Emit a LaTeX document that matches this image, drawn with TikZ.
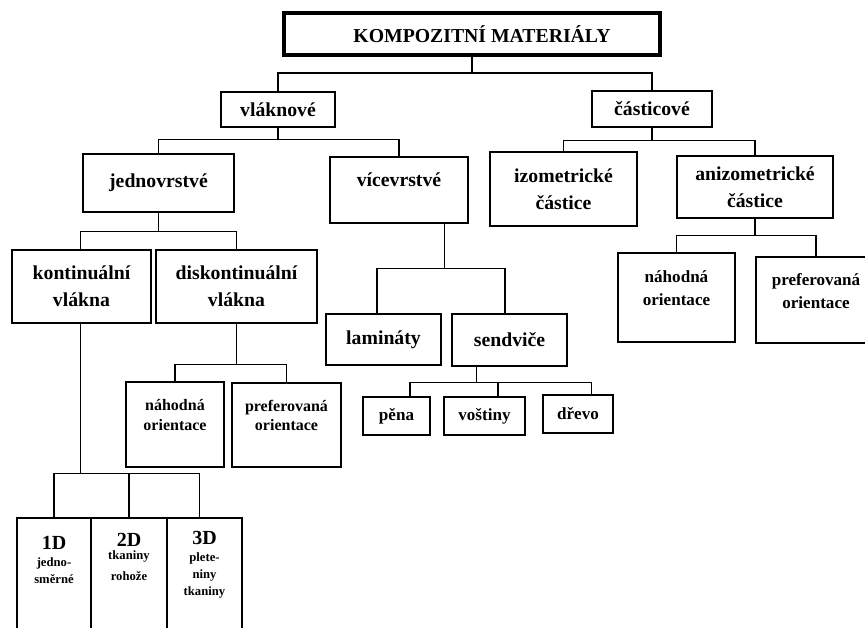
\documentclass[tikz,border=0pt]{standalone}
\usepackage{fontspec}
\setmainfont{Liberation Serif}

% text of the 1D/2D/3D boxes sits at the top
\newcommand{\dimtext}[3]{\parbox[c][84pt][t]{#1}{\centering\vspace*{#2}#3}}

\tikzset{
  box/.style={draw, line width=1pt, inner sep=0pt, align=center,
    font=\bfseries\fontsize{14.8}{20.5}\selectfont},
  orientbox/.style={box, font=\bfseries\fontsize{12.8}{17}\selectfont},
  smallbox/.style={box, font=\bfseries\fontsize{12}{14.5}\selectfont},
  dimbox/.style={draw, line width=1pt, inner sep=0pt, font=\bfseries},
  link/.style={line width=1pt},
}

\begin{document}
\begin{tikzpicture}[x=0.75pt, y=-0.75pt]
    \path[use as bounding box, fill=white] (0,0) rectangle (865,628);

    % top level
    \node[box, line width=2.8pt, minimum width=282pt, minimum height=31.5pt] (root) at (472,34)
        {\hspace*{15pt}KOMPOZITNÍ MATERIÁLY};

    \node[box, minimum width=85.5pt, minimum height=26.25pt] (vlaknove) at (278,109.5) {vláknové};
    \node[box, minimum width=90pt, minimum height=27pt] (casticove) at (652,109) {částicové};

    % fibre composites
    \node[box, minimum width=113.25pt, minimum height=43.5pt] (jednovrstve) at (158.5,183) {jednovrstvé};
    \node[box, minimum width=103.5pt, minimum height=49.5pt] (vicevrstve) at (399,190) {vícevrstvé\\[-5.5pt]};

    \node[box, minimum width=104.25pt, minimum height=54.75pt] (kontinualni) at (81.5,286.5) {kontinuální\\vlákna};
    \node[box, minimum width=120.75pt, minimum height=54.75pt] (diskontinualni) at (236.5,286.5) {diskontinuální\\vlákna};

    \node[smallbox, minimum width=73.5pt, minimum height=63.75pt] (nahodnaB) at (175,424.5) {náhodná\\orientace\\[0pt]};
    \node[smallbox, minimum width=81.75pt, minimum height=63pt] (preferovanaB) at (286.5,425) {preferovaná\\orientace\\[0pt]};

    \node[box, minimum width=86.25pt, minimum height=38.25pt] (laminaty) at (383.5,339.5) {lamináty};
    \node[box, minimum width=86.25pt, minimum height=39pt] (sendvice) at (509.5,340) {sendviče};

    \node[smallbox, font=\bfseries\fontsize{12.8}{15}\selectfont, minimum width=50.25pt, minimum height=28.5pt] (pena) at (396.5,416) {pěna};
    \node[smallbox, font=\bfseries\fontsize{12.8}{15}\selectfont, minimum width=60.75pt, minimum height=28.5pt] (vostiny) at (484.5,416) {voštiny};
    \node[smallbox, font=\bfseries\fontsize{12.8}{15}\selectfont, minimum width=52.5pt, minimum height=28.5pt] (drevo) at (578,414) {dřevo};

    \node[dimbox] (d1) at (54,574) {\dimtext{55.5pt}{13.5pt}{%
        {\fontsize{15}{16}\selectfont 1D\par}%
        {\fontsize{9.5}{12.75}\selectfont jedno-\\směrné\par}}};
    \node[dimbox] (d2) at (129,574) {\dimtext{57pt}{11.3pt}{%
        {\fontsize{15}{16}\selectfont 2D\par}%
        {\fontsize{9.5}{10}\selectfont tkaniny\par}%
        {\fontsize{9.5}{15.5}\selectfont rohože\par}}};
    \node[dimbox] (d3) at (204.5,574) {\dimtext{56.25pt}{9.8pt}{%
        {\fontsize{15}{16}\selectfont 3D\par}%
        {\fontsize{9.5}{12.8}\selectfont plete-\\niny\\tkaniny\par}}};

    % particle composites
    \node[box, minimum width=110.25pt, minimum height=55.5pt] (izometricke) at (563.5,189) {izometrické\\částice};
    \node[box, minimum width=117pt, minimum height=46.5pt] (anizometricke) at (755,187) {anizometrické\\částice};

    \node[orientbox, minimum width=87.75pt, minimum height=66.75pt] (nahodnaA) at (676.5,297.5) {náhodná\\orientace\\[-3pt]};
    \node[orientbox, minimum width=90pt, minimum height=64.5pt] (preferovanaA) at (816,300) {preferovaná\\orientace\\[-3pt]};

    % connectors
    \draw[link] (root.south) -- ++(0,16) -| (vlaknove.north);
    \draw[link] (root.south) -- ++(0,16) -| (casticove.north);

    \draw[link] (vlaknove.south) -- ++(0,12) -| (jednovrstve.north);
    \draw[link] (vlaknove.south) -- ++(0,12) -| (vicevrstve.north);
    \draw[link] (casticove.south) -- ++(0,13) -| (izometricke.north);
    \draw[link] (casticove.south) -- ++(0,13) -| (anizometricke.north);

    \draw[link] (anizometricke.south) -- ++(0,17) -| (nahodnaA.north);
    \draw[link] (anizometricke.south) -- ++(0,17) -| (preferovanaA.north);

    \draw[link] (jednovrstve.south) -- ++(0,19) -| ([xshift=-1pt]kontinualni.north);
    \draw[link] (jednovrstve.south) -- ++(0,19) -| (diskontinualni.north);

    \draw[link] (diskontinualni.south) -- ++(0,41) -| (nahodnaB.north);
    \draw[link] (diskontinualni.south) -- ++(0,41) -| (preferovanaB.north);

    \draw[link] ([xshift=-1pt]kontinualni.south) -- ++(0,150) -| (d1.north);
    \draw[link] ([xshift=-1pt]kontinualni.south) -- ++(0,150) -| (d2.north);
    \draw[link] ([xshift=-1pt]kontinualni.south) -- ++(0,150) -| ([xshift=-4pt]d3.north);

    \draw[link] ([xshift=34pt]vicevrstve.south) -- ++(0,45) -| ([xshift=-5pt]laminaty.north);
    \draw[link] ([xshift=34pt]vicevrstve.south) -- ++(0,45) -| ([xshift=-3.5pt]sendvice.north);

    \draw[link] ([xshift=-25pt]sendvice.south) -- ++(0,16) -| ([xshift=10pt]pena.north);
    \draw[link] ([xshift=-25pt]sendvice.south) -- ++(0,16) -| ([xshift=10pt]vostiny.north);
    \draw[link] ([xshift=-25pt]sendvice.south) -- ++(0,16) -| ([xshift=10pt]drevo.north);
\end{tikzpicture}
\end{document}
